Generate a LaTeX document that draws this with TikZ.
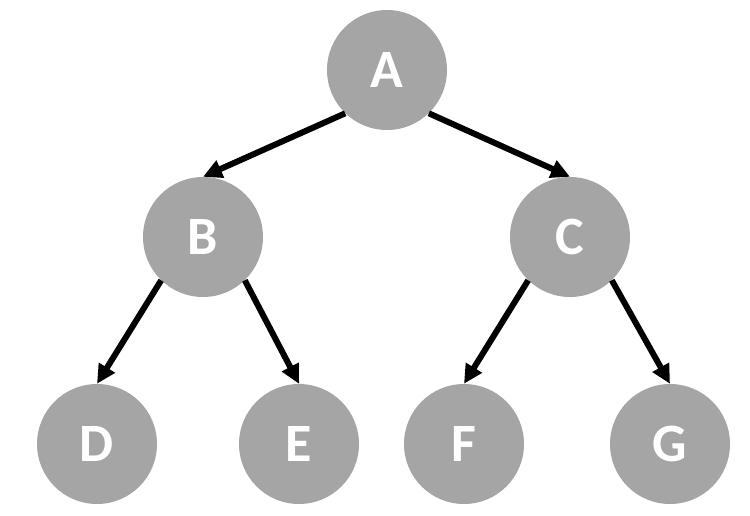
\documentclass[tikz,border=0pt]{standalone}
\usepackage{fontspec}
\setmainfont{Carlito}
\usepackage{tikz}
\usetikzlibrary{arrows.meta}
\definecolor{nodegray}{HTML}{A5A5A5}
\tikzset{
  treenode/.style = {align=center, inner sep=0pt, text centered,
    font=\fontsize{54}{60}\selectfont\bfseries},
  ch/.style = {treenode, circle, white, fill=nodegray,
    minimum size=120pt},
  link/.style = {draw=black, line width=6pt,
    -{Triangle[length=19pt,width=18pt]}}
}
\begin{document}
\begin{tikzpicture}[x=1pt,y=-1pt]
\useasboundingbox (0,0) rectangle (750,515);
\node [ch] (A) at (387,70) {A};
\node [ch] (B) at (203,237) {B};
\node [ch] (C) at (570,237) {C};
\node [ch] (D) at (97,444) {D};
\node [ch] (E) at (299,444) {E};
\node [ch] (F) at (464,444) {F};
\node [ch] (G) at (670,444) {G};
\draw [link] (A.-134) -- (B.north);
\draw [link] (A.-46) -- (C.north);
\draw [link] (B.-134) -- (D.north);
\draw [link] (B.-46) -- (E.north);
\draw [link] (C.-134) -- (F.north);
\draw [link] (C.-46) -- (G.north);
\end{tikzpicture}
\end{document}
